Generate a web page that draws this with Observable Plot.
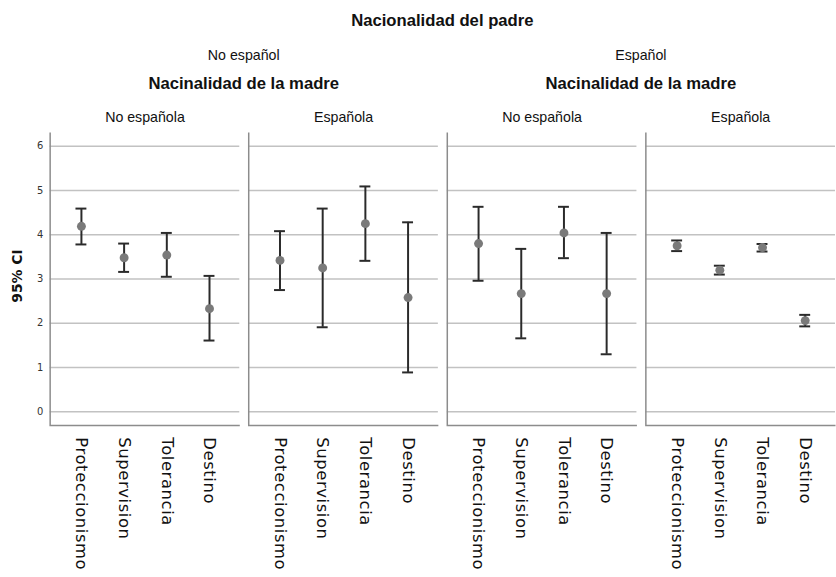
<!DOCTYPE html>
<html><head><meta charset="utf-8">
<script src="https://cdn.jsdelivr.net/npm/d3@7"></script>
<script src="https://cdn.jsdelivr.net/npm/@observablehq/plot@0.6"></script>
<style>
html,body{margin:0;padding:0;background:#fff;overflow:hidden;width:836px;height:577px}
#chart{position:relative;width:836px;height:577px;overflow:hidden}
g[aria-label="x-axis tick label"] text{letter-spacing:0.6px}
</style></head><body><div id="chart"></div>
<script>
// ---- data ----
const categories = ["Proteccionismo", "Supervision", "Tolerancia", "Destino"];
const superTitle = "Nacionalidad del padre";
const motherTitle = "Nacinalidad de la madre";
const fatherGroups = ["No español", "Español"];
const panelFather = ["No español", "No español", "Español", "Español"];
const panelMother = ["No española", "Española", "No española", "Española"];
const yTicks = [0, 1, 2, 3, 4, 5, 6];
const yLabel = "95% CI";

// padre No español / madre No española
const mean1 = [4.19, 3.48, 3.54, 2.33];
const low1  = [3.78, 3.16, 3.05, 1.61];
const high1 = [4.59, 3.80, 4.04, 3.07];
// padre No español / madre Española
const mean2 = [3.42, 3.25, 4.25, 2.58];
const low2  = [2.75, 1.91, 3.41, 0.89];
const high2 = [4.08, 4.59, 5.09, 4.28];
// padre Español / madre No española
const mean3 = [3.80, 2.67, 4.04, 2.67];
const low3  = [2.96, 1.66, 3.47, 1.30];
const high3 = [4.63, 3.68, 4.63, 4.04];
// padre Español / madre Española
const mean4 = [3.75, 3.20, 3.71, 2.06];
const low4  = [3.63, 3.10, 3.62, 1.93];
const high4 = [3.87, 3.30, 3.79, 2.19];

const means = [mean1, mean2, mean3, mean4];
const lows = [low1, low2, low3, low4];
const highs = [high1, high2, high3, high4];
const rows = [];
panelMother.forEach((m, p) => categories.forEach((c, j) => {
  rows.push({panel: p, cat: c, mean: means[p][j], lo: lows[p][j], hi: highs[p][j]});
}));

const W = 842, H = 577, ML = 49, MT = 133, MB = 149;
const helv = "'Liberation Sans', Arial, sans-serif";
const lucida = "'DejaVu Sans', sans-serif";

function build(perim) {
  return Plot.plot({
    width: W, height: H,
    marginLeft: ML, marginRight: 0, marginTop: MT, marginBottom: MB,
    style: {background: "transparent", fontFamily: lucida, overflow: "visible"},
    fx: {domain: [0, 1, 2, 3], paddingInner: 0.045, paddingOuter: 0, axis: null},
    x: {domain: categories, type: "band", paddingInner: 0.746, paddingOuter: 0.584, axis: null},
    y: {domain: [-0.307, 6.307], axis: null},
    marks: [
      Plot.gridY({ticks: yTicks, stroke: "#c2c2c2", strokeOpacity: 1, strokeWidth: 1.5}),
      Plot.frame({stroke: "#8c8c8c", strokeWidth: 1.5, strokeDasharray: perim ? `0 ${perim} ${perim}` : null}),
      Plot.axisY({ticks: yTicks, tickFormat: d3.format("d"), tickSize: 0, tickPadding: 7, label: null, fontSize: 10, fill: "#333", fontFamily: lucida}),
      Plot.axisX({tickSize: 0, tickPadding: 12, tickRotate: 90, label: null, fontSize: 16.5, fill: "#111", fontFamily: lucida}),
      Plot.axisFx({anchor: "top", tickSize: 0, tickPadding: 11, label: null, tickFormat: i => panelMother[i], fontSize: 14.3, fill: "#111", fontFamily: helv}),
      Plot.ruleX(rows, {fx: "panel", x: "cat", y1: "lo", y2: "hi", stroke: "#2a2a2a", strokeWidth: 2}),
      Plot.tickY(rows, {fx: "panel", x: "cat", y: "hi", stroke: "#2a2a2a", strokeWidth: 2}),
      Plot.tickY(rows, {fx: "panel", x: "cat", y: "lo", stroke: "#2a2a2a", strokeWidth: 2}),
      Plot.dot(rows, {fx: "panel", x: "cat", y: "mean", r: 4.5, fill: "#7a7a7a", stroke: "none"})
    ]
  });
}

let plot = build(null);
const bw0 = plot.scale("fx").bandwidth;
plot = build(bw0 + (H - MT - MB));
document.getElementById("chart").appendChild(plot);

const fx = plot.scale("fx");
const bw = fx.bandwidth;
const svg = d3.select(plot);
const g = svg.append("g").attr("fill", "#111").attr("text-anchor", "middle");
const cx = (a, b) => (fx.apply(a) + fx.apply(b) + bw) / 2;

g.append("text").attr("x", cx(0, 3)).attr("y", 26)
  .attr("font-family", helv).attr("font-weight", "bold").attr("font-size", 16.8).text(superTitle);
fatherGroups.forEach((f, k) => {
  g.append("text").attr("x", cx(2 * k, 2 * k + 1)).attr("y", 60)
    .attr("font-family", helv).attr("font-size", 14.3).text(f);
  g.append("text").attr("x", cx(2 * k, 2 * k + 1)).attr("y", 90)
    .attr("font-family", helv).attr("font-weight", "bold").attr("font-size", 16.8).text(motherTitle);
});
g.append("text").attr("transform", `translate(22,278) rotate(-90)`)
  .attr("font-family", lucida).attr("font-weight", "bold").attr("font-size", 14).text(yLabel);
</script></body></html>
